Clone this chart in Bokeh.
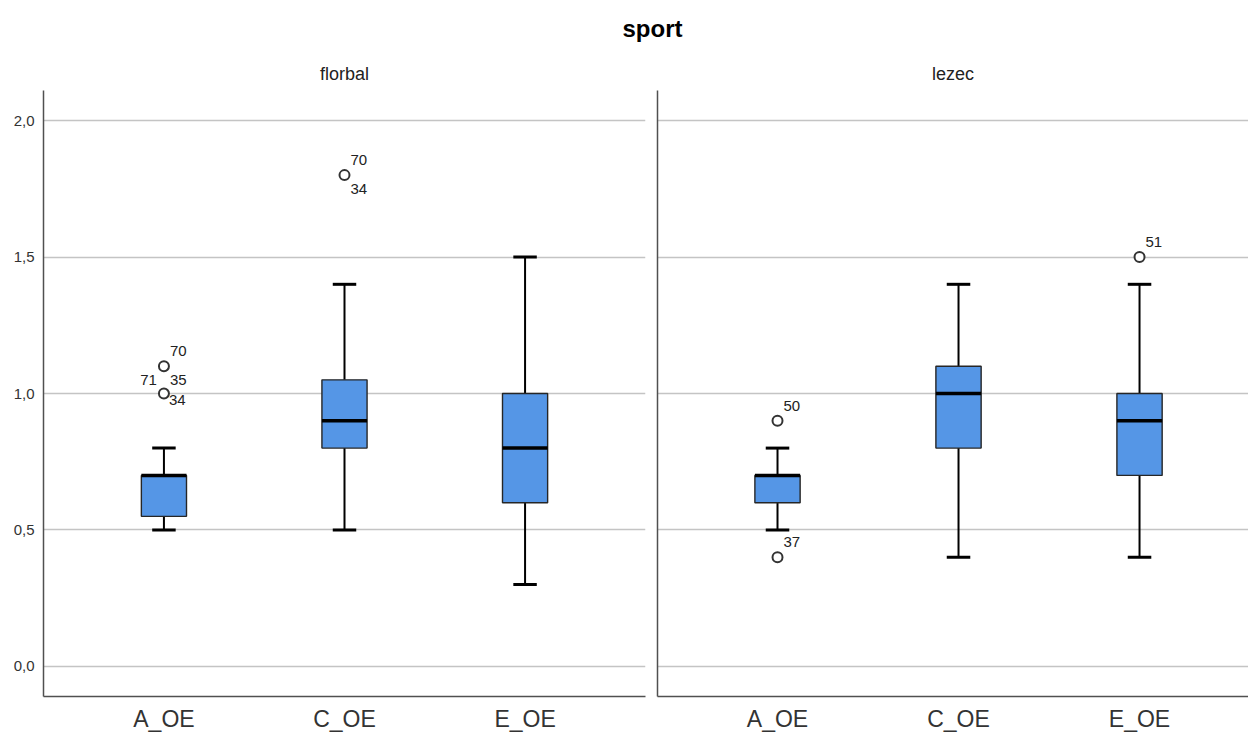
from bokeh.plotting import figure
from bokeh.layouts import column, row
from bokeh.models import Range1d, FixedTicker, ColumnDataSource
from bokeh.embed import file_html
from bokeh.resources import INLINE
from bokeh.core.properties import value

# ---------------- data ----------------
chart_title = "sport"
panels = ["florbal", "lezec"]
categories = ["A_OE", "C_OE", "E_OE"]
y_ticks = [0.0, 0.5, 1.0, 1.5, 2.0]
y_tick_labels = ["0,0", "0,5", "1,0", "1,5", "2,0"]

florbal_low = [0.50, 0.50, 0.30]
florbal_q1 = [0.55, 0.80, 0.60]
florbal_median = [0.70, 0.90, 0.80]
florbal_q3 = [0.70, 1.05, 1.00]
florbal_high = [0.80, 1.40, 1.50]

lezec_low = [0.50, 0.40, 0.40]
lezec_q1 = [0.60, 0.80, 0.70]
lezec_median = [0.70, 1.00, 0.90]
lezec_q3 = [0.70, 1.10, 1.00]
lezec_high = [0.80, 1.40, 1.40]

florbal_out_cat = ["A_OE", "A_OE", "C_OE"]
florbal_out_val = [1.10, 1.00, 1.80]
florbal_out_ids = [["70", "35", "71"], ["34"], ["70", "34"]]

lezec_out_cat = ["A_OE", "A_OE", "E_OE"]
lezec_out_val = [0.90, 0.40, 1.50]
lezec_out_ids = [["50"], ["37"], ["51"]]

# ---------------- style ----------------
FONT = "Liberation Sans"
BOX_FILL = "#5596e6"
BOX_W = 0.25
CAP_W = 0.13
LABEL_SLOTS = {"ne": (6, -15, "left"), "se": (6, 14, "left"),
               "sw": (-7, 14, "right"), "e": (5, 6, "left")}
florbal_out_slots = [["ne", "se", "sw"], ["e"], ["ne", "se"]]
lezec_out_slots = [["ne"], ["ne"], ["ne"]]

pos = {c: i + 1 for i, c in enumerate(categories)}


def make_panel(name, low, q1, med, q3, high, out_cat, out_val, out_ids, out_slots,
               width, xr, border_left, border_right, show_ylabels):
    p = figure(width=width, height=684, x_range=xr, y_range=Range1d(-0.11, 2.11),
               toolbar_location=None, output_backend="svg",
               min_border_left=border_left, min_border_right=border_right,
               min_border_top=40, min_border_bottom=38,
               outline_line_color=None)
    p.title.text = name
    p.title.align = "center"
    p.title.text_font = FONT
    p.title.text_font_size = "18px"
    p.title.text_font_style = "normal"
    p.title.text_color = "#222222"
    p.title.standoff = 13

    xs = [pos[c] for c in categories]
    src = ColumnDataSource(dict(
        x=xs, low=low, q1=q1, med=med, q3=q3, high=high,
        bl=[x - BOX_W / 2 for x in xs], br=[x + BOX_W / 2 for x in xs],
        cl=[x - CAP_W / 2 for x in xs], cr=[x + CAP_W / 2 for x in xs]))
    # whiskers
    p.segment(x0="x", y0="q3", x1="x", y1="high", source=src, line_color="black", line_width=2)
    p.segment(x0="x", y0="q1", x1="x", y1="low", source=src, line_color="black", line_width=2)
    p.segment(x0="cl", y0="high", x1="cr", y1="high", source=src, line_color="black", line_width=3)
    p.segment(x0="cl", y0="low", x1="cr", y1="low", source=src, line_color="black", line_width=3)
    # boxes
    p.vbar(x="x", width=BOX_W, bottom="q1", top="q3", source=src,
           fill_color=BOX_FILL, line_color="#262626", line_width=1.4)
    p.segment(x0="bl", y0="med", x1="br", y1="med", source=src, line_color="black", line_width=3.5)

    # outliers
    ox = [pos[c] for c in out_cat]
    p.scatter(x=ox, y=out_val, size=10, marker="circle", fill_color="white",
              line_color="#333333", line_width=2)
    tx, ty, tt, dx, dy, al = [], [], [], [], [], []
    for x, v, ids, slots in zip(ox, out_val, out_ids, out_slots):
        for lab, s in zip(ids, slots):
            ox_, oy_, a = LABEL_SLOTS[s]
            tx.append(x); ty.append(v); tt.append(lab)
            dx.append(ox_); dy.append(oy_); al.append(a)
    tsrc = ColumnDataSource(dict(x=tx, y=ty, t=tt, dx=dx, dy=dy, al=al))
    p.text(x="x", y="y", text="t", x_offset="dx", y_offset="dy", text_align="al",
           text_baseline="middle", source=tsrc, text_font=value(FONT),
           text_font_size="15px", text_color="#222222")

    # axes
    p.xaxis.ticker = FixedTicker(ticks=xs)
    p.xaxis.major_label_overrides = {pos[c]: c for c in categories}
    p.xaxis.major_label_text_font = FONT
    p.xaxis.major_label_text_font_size = "23px"
    p.xaxis.major_label_text_color = "#333333"
    p.xaxis.major_label_standoff = 9
    p.xaxis.major_tick_out = 0
    p.xaxis.major_tick_in = 0
    p.xaxis.minor_tick_out = 0
    p.xaxis.minor_tick_in = 0
    p.xaxis.axis_line_color = "#505050"
    p.xaxis.axis_line_width = 1.5

    p.yaxis.ticker = FixedTicker(ticks=y_ticks)
    if show_ylabels:
        p.yaxis.major_label_overrides = {t: l for t, l in zip(y_ticks, y_tick_labels)}
        p.yaxis.major_label_standoff = 9
    else:
        p.yaxis.major_label_overrides = {t: "" for t in y_ticks}
        p.yaxis.major_label_standoff = 0
    p.yaxis.major_label_text_font = FONT
    p.yaxis.major_label_text_font_size = "15px"
    p.yaxis.major_label_text_color = "#333333"
    p.yaxis.major_tick_out = 0
    p.yaxis.major_tick_in = 0
    p.yaxis.minor_tick_out = 0
    p.yaxis.minor_tick_in = 0
    p.yaxis.axis_line_color = "#505050"
    p.yaxis.axis_line_width = 1.5

    p.xgrid.visible = False
    p.ygrid.ticker = FixedTicker(ticks=y_ticks)
    p.ygrid.grid_line_color = "#c4c4c4"
    p.ygrid.grid_line_width = 1.5
    return p


left = make_panel(panels[0], florbal_low, florbal_q1, florbal_median, florbal_q3, florbal_high,
                  florbal_out_cat, florbal_out_val, florbal_out_ids, florbal_out_slots,
                  651, Range1d(0.333, 3.667), 43, 6, True)
right = make_panel(panels[1], lezec_low, lezec_q1, lezec_median, lezec_q3, lezec_high,
                   lezec_out_cat, lezec_out_val, lezec_out_ids, lezec_out_slots,
                   597, Range1d(0.337, 3.602), 6, 0, False)

top = figure(width=1248, height=50, toolbar_location=None, output_backend="svg",
             x_axis_location=None, y_axis_location=None, outline_line_color=None,
             min_border_left=56, min_border_right=0, min_border_top=46, min_border_bottom=0,
             x_range=Range1d(0, 1), y_range=Range1d(0, 1))
top.grid.visible = False
top.title.text = chart_title
top.title.align = "center"
top.title.text_font = FONT
top.title.text_font_size = "24px"
top.title.text_font_style = "bold"
top.title.text_color = "black"

layout = column(top, row(left, right, spacing=0), spacing=0)

open("out.html", "w").write(file_html(layout, INLINE))
